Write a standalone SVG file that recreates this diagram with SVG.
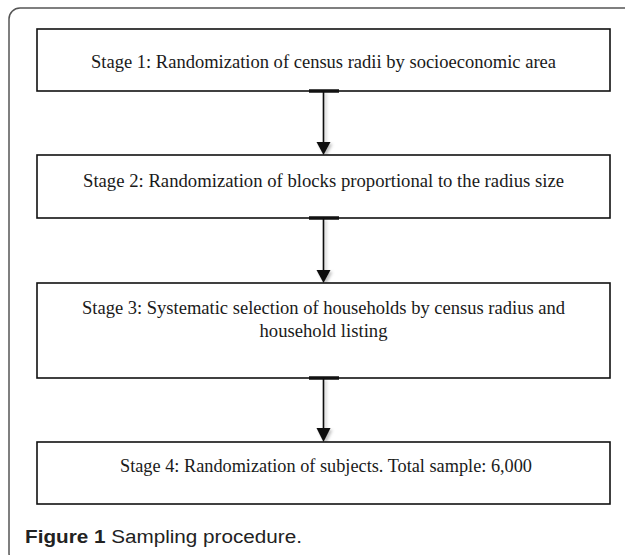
<svg xmlns="http://www.w3.org/2000/svg" width="625" height="555" viewBox="0 0 625 555">
<style>
.box{fill:#fff;stroke:#111;stroke-width:1.6}
.t{font-family:"Liberation Serif",serif;font-size:18px;fill:#1a1a1a;text-anchor:middle}
.ln{stroke:#111;stroke-width:1.6;fill:none}
.tab{stroke:#111;stroke-width:3.5}
.cap{font-family:"Liberation Sans",Arial,sans-serif;font-size:18px;fill:#222}
</style>
<defs>
<filter id="sh" x="-50%" y="-10%" width="200%" height="130%">
<feDropShadow dx="2" dy="2" stdDeviation="1.5" flood-color="#000" flood-opacity="0.25"/>
</filter>
</defs>
<rect x="9" y="8" width="640" height="556" rx="11" fill="#fff" stroke="#555" stroke-width="1.5"/>
<g id="connectors">
<g filter="url(#sh)">
<line class="ln" x1="323.5" y1="91" x2="323.5" y2="143"/>
<polygon points="316.5,142 330.5,142 323.5,155" fill="#111"/>
<line class="ln" x1="323.5" y1="218" x2="323.5" y2="271"/>
<polygon points="316.5,270 330.5,270 323.5,283" fill="#111"/>
<line class="ln" x1="323.5" y1="378" x2="323.5" y2="429"/>
<polygon points="316.5,428 330.5,428 323.5,442" fill="#111"/>
</g>
</g>
<g id="stage1">
<rect class="box" x="37" y="29" width="573" height="62"/>
<text class="t" x="323.5" y="68" textLength="465" lengthAdjust="spacingAndGlyphs">Stage 1: Randomization of census radii by socioeconomic area</text>
</g>
<g id="stage2">
<rect class="box" x="37" y="155" width="573" height="63"/>
<text class="t" x="323.5" y="187" textLength="481" lengthAdjust="spacingAndGlyphs">Stage 2: Randomization of blocks proportional to the radius size</text>
</g>
<g id="stage3">
<rect class="box" x="37" y="283" width="573" height="95"/>
<text class="t" x="323.5" y="314" textLength="483" lengthAdjust="spacingAndGlyphs">Stage 3: Systematic selection of households by census radius and</text>
<text class="t" x="323.5" y="337" textLength="128" lengthAdjust="spacingAndGlyphs">household listing</text>
</g>
<g id="stage4">
<rect class="box" x="37" y="442" width="573" height="62"/>
<text class="t" x="326" y="472" textLength="412" lengthAdjust="spacingAndGlyphs">Stage 4: Randomization of subjects. Total sample: 6,000</text>
</g>
<g id="tabs">
<line class="tab" x1="309" y1="91" x2="339" y2="91"/>
<line class="tab" x1="309" y1="218" x2="339" y2="218"/>
<line class="tab" x1="309" y1="378" x2="339" y2="378"/>
</g>
<text class="cap" x="25" y="543" textLength="277" lengthAdjust="spacingAndGlyphs"><tspan font-weight="bold">Figure 1</tspan> Sampling procedure.</text>
</svg>
